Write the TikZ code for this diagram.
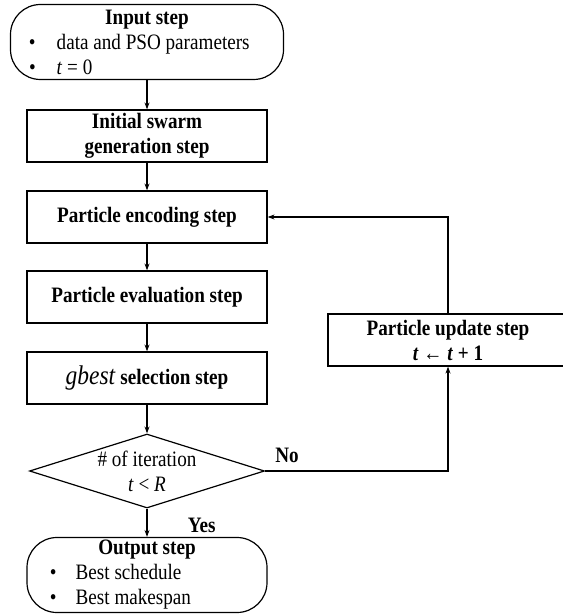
\documentclass[tikz,border=0pt]{standalone}
\usepackage{fontspec}
\setmainfont{Liberation Serif}[FakeStretch=0.87]
\usepackage{amsmath,amssymb}
\usetikzlibrary{shapes.geometric,arrows.meta}

\begin{document}
\begin{tikzpicture}[x=1pt,y=-1pt,font=\fontsize{22}{25}\selectfont]
	\tikzstyle{stepbox} = [draw=black, line width=1.2pt, minimum width=240pt, minimum height=52pt, inner sep=0pt, align=center]
	\tikzstyle{terminal} = [draw=black, line width=1.2pt, rounded corners=30pt, minimum height=75pt, inner sep=0pt, align=left]
	\tikzstyle{decision} = [draw=black, line width=1.2pt, diamond, minimum width=235pt, minimum height=74pt, inner sep=0pt]
	\tikzstyle{flow} = [draw=black, line width=1.2pt, -{Stealth[length=7pt,width=5pt]}]
	\useasboundingbox (0,0) rectangle (562,615);
		\node[terminal, minimum width=273pt] (input) at (147,42)
			{\makebox[250pt]{\textbf{Input step}}\\ \hspace*{7pt}\textbullet\hspace{21pt}data and PSO parameters\\ \hspace*{7pt}\textbullet\hspace{21pt}\textit{t} = 0};
		\node[stepbox] (init) at (147,136) {\textbf{Initial swarm}\\ \textbf{generation step}};
		\node[stepbox] (enc) at (147,217) {\textbf{Particle encoding step}};
		\node[stepbox] (eval) at (147,297) {\textbf{Particle evaluation step}};
		\node[stepbox] (sel) at (147,378) {{\fontsize{27}{25}\selectfont\textit{gbest}}\ \textbf{selection step}};
		\node[decision, label={[align=center]center:{\# of iteration\\ \textit{t} < \textit{R}}}] (iter) at (147,471) {};
		\node[terminal, minimum width=240pt] (output) at (147,575)
			{\makebox[220pt]{\textbf{Output step}}\\ \hspace*{13pt}\textbullet\hspace{19pt}Best schedule\\ \hspace*{13pt}\textbullet\hspace{19pt}Best makespan};
		\node[stepbox] (update) at (448,340) {\textbf{Particle update step}\\ \textbf{\textit{t} ← \textit{t} + 1}};

		\draw[flow] (input) -- (init);
		\draw[flow] (init) -- (enc);
		\draw[flow] (enc) -- (eval);
		\draw[flow] (eval) -- (sel);
		\draw[flow] (sel) -- (iter);
		\draw[flow] (iter) -- node[pos=0.6, anchor=west, xshift=37pt] (yes) {\textbf{Yes}} (output);
		\draw[flow] (iter.east) -| node[pos=0.06, above, yshift=4pt] (no) {\textbf{No}} (update.south);
		\draw[flow] (update.north) |- (enc.east);
	\end{tikzpicture}
\end{document}
